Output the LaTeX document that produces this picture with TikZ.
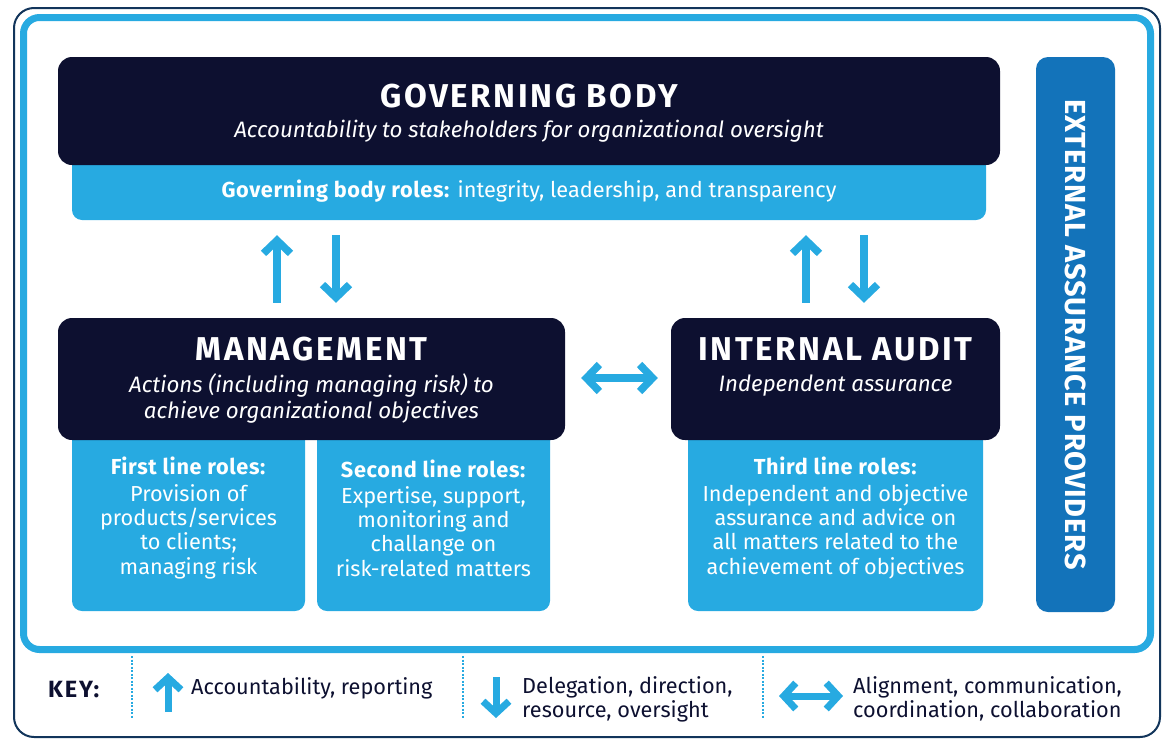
\documentclass[tikz,border=0pt]{standalone}
\usepackage{fontspec}
\setmainfont{Fira Sans}[BoldFeatures={LetterSpace=3}]
\newfontfamily\headfont{Fira Sans}[LetterSpace=8]
\usetikzlibrary{arrows.meta}

\definecolor{navy}{HTML}{0D1030}
\definecolor{frame}{HTML}{12355B}
\definecolor{skyblue}{HTML}{27AAE1}
\definecolor{extblue}{HTML}{1373BA}

\begin{document}
\begin{tikzpicture}[
        x=1pt, y=-1pt,
        darkbox/.style={fill=navy, rounded corners=14pt, text=white, align=center, inner sep=0pt},
        rolebox/.style={fill=skyblue, rounded corners=10pt, text=white, align=center, inner sep=0pt,
            font=\fontsize{21.7}{24.3}\selectfont},
        head/.style={font=\fontsize{33}{36}\headfont\bfseries},
        flow/.style={skyblue, line width=7.5pt, shorten <=15pt, shorten >=15pt,
            -{Straight Barb[length=13pt, width=27pt]}},
        both/.style={skyblue, line width=7.5pt, shorten <=16pt, shorten >=13pt,
            {Straight Barb[length=13pt, width=27pt]}-{Straight Barb[length=13pt, width=27pt]}},
        keyflow/.style={skyblue, line width=7pt, -{Straight Barb[length=12pt, width=26pt]}},
        keyboth/.style={skyblue, line width=7pt,
            {Straight Barb[length=12pt, width=26pt]}-{Straight Barb[length=12pt, width=26pt]}},
        keytext/.style={text=navy, align=left, anchor=west, inner sep=0pt,
            font=\fontsize{21.7}{24}\selectfont},
        sep/.style={skyblue, line width=1.5pt, dash pattern=on 2pt off 1.5pt}
    ]
        \useasboundingbox (0,0) rectangle (1164,739);

        % Khung ngoài
        \draw[frame, line width=2pt, rounded corners=20pt] (14,8) rectangle (1160,737);
        \draw[skyblue, line width=7pt, rounded corners=16pt] (23.5,17.5) rectangle (1150.5,649.5);

        % Hội đồng quản trị
        \node[fill=skyblue, rounded corners=10pt, minimum width=914pt, minimum height=70pt] (band) at (529,185) {};
        \node[darkbox, minimum width=942pt, minimum height=108pt] (gb) at (529,111) {};
        \node[head, text=white] (gbtitle) at (529,96) {GOVERNING BODY};
        \node[text=white, font=\fontsize{22.3}{26}\selectfont\itshape] (gbsub) at (529,131)
            {Accountability to stakeholders for organizational oversight};
        \node[text=white, font=\fontsize{21.7}{24}\selectfont] (gbroles) at (529,191)
            {\textbf{Governing body roles:} integrity, leadership, and transparency};

        % Các tuyến vai trò
        \node[rolebox, minimum width=233pt, minimum height=186pt] (first) at (188.5,518)
            {\textbf{First line roles:}\\[2pt] Provision of\\ products/services\\ to clients;\\ managing risk};
        \node[rolebox, minimum width=233pt, minimum height=186pt] (second) at (433.5,518)
            {\textbf{Second line roles:}\\[2pt] Expertise, support,\\ monitoring and\\ challange on\\ risk-related matters};
        \node[rolebox, minimum width=295pt, minimum height=186pt] (third) at (835.5,518)
            {\textbf{Third line roles:}\\[2pt] Independent and objective\\ assurance and advice on\\ all matters related to the\\ achievement of objectives};

        % Ban điều hành và kiểm toán nội bộ
        \node[darkbox, minimum width=507pt, minimum height=122pt] (mgmt) at (311.5,379) {};
        \node[head, text=white] (mgmttitle) at (311.5,349) {MANAGEMENT};
        \node[text=white, align=center, font=\fontsize{22.3}{26}\selectfont\itshape] (mgmtsub) at (311.5,398)
            {Actions (including managing risk) to\\ achieve organizational objectives};
        \node[darkbox, minimum width=329pt, minimum height=122pt] (ia) at (835.5,379) {};
        \node[head, text=white] (iatitle) at (835.5,349) {INTERNAL AUDIT};
        \node[text=white, font=\fontsize{22.3}{26}\selectfont\itshape] (iasub) at (835.5,386)
            {Independent assurance};

        % Nhà cung cấp đảm bảo bên ngoài
        \node[fill=extblue, rounded corners=12pt, rotate=-90, minimum width=555pt, minimum height=79pt,
            text=white, font=\fontsize{29}{32}\selectfont\bfseries] (ext) at (1075.5,334.5)
            {EXTERNAL ASSURANCE PROVIDERS};

        % Các mũi tên
        \coordinate (upL) at (277,0);
        \coordinate (downL) at (336,0);
        \coordinate (upR) at (806,0);
        \coordinate (downR) at (864,0);
        \draw[flow] (mgmt.north -| upL) -- (band.south -| upL);
        \draw[flow] (band.south -| downL) -- (mgmt.north -| downL);
        \draw[flow] (ia.north -| upR) -- (band.south -| upR);
        \draw[flow] (band.south -| downR) -- (ia.north -| downR);
        \draw[both] (mgmt.east |- 0,378) -- (ia.west |- 0,378);

        % Chú thích
        \node[keytext, font=\fontsize{23.5}{26}\headfont\bfseries] (key) at (48,690) {KEY:};
        \foreach \x in {132,463,763}
            \draw[sep] (\x,656) -- (\x,718);
        \coordinate (k1a) at (168,712);
        \coordinate (k1b) at (168,673);
        \draw[keyflow] (k1a) -- (k1b);
        \node[keytext] (k1) at (191,688) {Accountability, reporting};
        \coordinate (k2a) at (496,677);
        \coordinate (k2b) at (496,718);
        \draw[keyflow] (k2a) -- (k2b);
        \node[keytext] (k2) at (522,699) {Delegation, direction,\\ resource, oversight};
        \coordinate (k3a) at (779,696);
        \coordinate (k3b) at (843,696);
        \draw[keyboth] (k3a) -- (k3b);
        \node[keytext] (k3) at (853,699) {Alignment, communication,\\ coordination, collaboration};
    \end{tikzpicture}
\end{document}
